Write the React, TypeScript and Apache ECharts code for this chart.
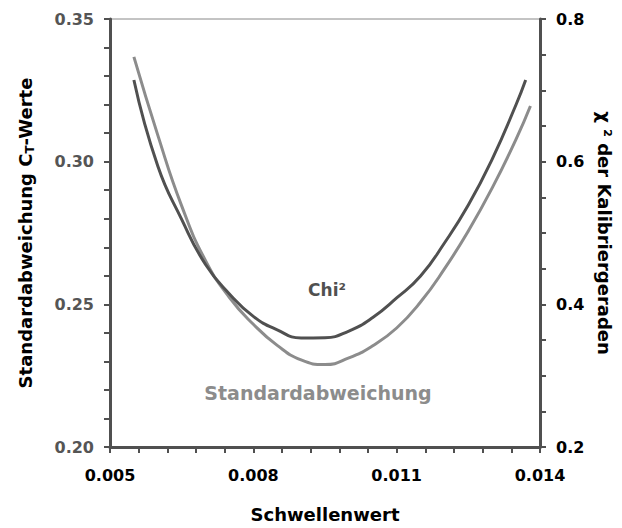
import React, { useEffect, useRef } from "react";
import * as echarts from "echarts";

// Schwellenwert (x) for each series
const stdX = [0.0055, 0.006, 0.0065, 0.007, 0.0075, 0.008, 0.0085, 0.009, 0.0095, 0.01, 0.0105, 0.011, 0.0115, 0.012, 0.0125, 0.013, 0.0135, 0.0138];
const stdValues = [0.3367, 0.3093, 0.2845, 0.2653, 0.2524, 0.243, 0.2356, 0.2305, 0.2289, 0.2312, 0.2355, 0.2417, 0.2508, 0.2624, 0.2757, 0.2908, 0.3079, 0.3195];

const chiX = [0.0055, 0.006, 0.0065, 0.007, 0.0075, 0.008, 0.0085, 0.009, 0.0095, 0.01, 0.0105, 0.011, 0.0115, 0.012, 0.0125, 0.013, 0.0135, 0.0137];
const chiValues = [0.7145, 0.5939, 0.5191, 0.4558, 0.4145, 0.3831, 0.3642, 0.3528, 0.3532, 0.3626, 0.3815, 0.4089, 0.4397, 0.486, 0.5392, 0.6037, 0.6801, 0.7145];

const xLabels = [0.005, 0.008, 0.011, 0.014];
const xTicks = [0.005, 0.0056, 0.0062, 0.0068, 0.0074, 0.008, 0.0086, 0.0092, 0.0098, 0.0104, 0.011, 0.0116, 0.0122, 0.0128, 0.0134, 0.014];
const leftLabels = [0.2, 0.25, 0.3, 0.35];
const leftTicks = [0.2, 0.21, 0.22, 0.23, 0.24, 0.25, 0.26, 0.27, 0.28, 0.29, 0.3, 0.31, 0.32, 0.33, 0.34, 0.35];
const rightLabels = [0.2, 0.4, 0.6, 0.8];
const rightTicks = [0.2, 0.25, 0.3, 0.35, 0.4, 0.45, 0.5, 0.55, 0.6, 0.65, 0.7, 0.75, 0.8];

const FONT = "DejaVu Sans";
const AXIS = "#505050";
const DARK = "#505050";
const LIGHT = "#8c8c8c";

export default function App() {
  const ref = useRef<HTMLDivElement>(null);
  useEffect(() => {
    if (!ref.current) return;
    const chart = echarts.init(ref.current, null, { renderer: "svg" });
    const axisCommon = {
      axisLine: { show: true, lineStyle: { color: AXIS, width: 3 } },
      axisTick: { show: true, inside: false, length: 6, lineStyle: { color: AXIS, width: 2 } },
      splitLine: { show: false },
    };
    chart.setOption({
      animation: false,
      backgroundColor: "#ffffff",
      grid: {
        left: 110, right: 82, top: 19, bottom: 81,
        show: true, borderColor: "#888", borderWidth: 1, backgroundColor: "transparent",
      },
      xAxis: {
        type: "value", min: 0.005, max: 0.014,
        ...axisCommon,
        axisTick: { ...axisCommon.axisTick, customValues: xTicks },
        axisLabel: {
          customValues: xLabels, margin: 20,
          formatter: (v: number) => v.toFixed(3),
          color: "#000", fontFamily: FONT, fontWeight: "bold", fontSize: 16,
        },
        name: "Schwellenwert", nameLocation: "middle", nameGap: 58,
        nameTextStyle: { color: "#000", fontFamily: FONT, fontWeight: "bold", fontSize: 18 },
      },
      yAxis: [
        {
          type: "value", min: 0.2, max: 0.35, position: "left",
          ...axisCommon,
          axisTick: { ...axisCommon.axisTick, customValues: leftTicks },
          axisLabel: {
            customValues: leftLabels, margin: 16,
            formatter: (v: number) => v.toFixed(2),
            color: "#555", fontFamily: FONT, fontWeight: "bold", fontSize: 16,
          },
          name: "Standardabweichung C{sub|T}-Werte", nameLocation: "middle", nameGap: 74, nameRotate: 90,
          nameTextStyle: {
            color: "#000", fontFamily: FONT, fontWeight: "bold", fontSize: 18,
            rich: { sub: { fontFamily: FONT, fontWeight: "bold", fontSize: 12, color: "#000", padding: [9, 0, 0, 0] } },
          },
        },
        {
          type: "value", min: 0.2, max: 0.8, position: "right",
          ...axisCommon,
          axisTick: { ...axisCommon.axisTick, customValues: rightTicks },
          axisLabel: {
            customValues: rightLabels, margin: 16,
            formatter: (v: number) => v.toFixed(1),
            color: "#000", fontFamily: FONT, fontWeight: "bold", fontSize: 16,
          },
          name: "χ ² der Kalibriergeraden", nameLocation: "middle", nameGap: 52, nameRotate: -90,
          nameTextStyle: { color: "#000", fontFamily: FONT, fontWeight: "bold", fontSize: 18 },
        },
      ],
      series: [
        {
          name: "Standardabweichung", type: "line", yAxisIndex: 0,
          data: stdX.map((x, i) => [x, stdValues[i]]),
          showSymbol: false, smooth: 0.5,
          lineStyle: { color: LIGHT, width: 3 },
        },
        {
          name: "Chi²", type: "line", yAxisIndex: 1,
          data: chiX.map((x, i) => [x, chiValues[i]]),
          showSymbol: false, smooth: 0.5,
          lineStyle: { color: DARK, width: 3 },
        },
      ],
      graphic: [
        {
          type: "text", x: 327, y: 290,
          style: { text: "Chi²", fill: DARK, font: `bold 17px "${FONT}"`, align: "center", verticalAlign: "middle" },
        },
        {
          type: "text", x: 318, y: 393,
          style: { text: "Standardabweichung", fill: LIGHT, font: `bold 19px "${FONT}"`, align: "center", verticalAlign: "middle" },
        },
      ],
    });
    return () => chart.dispose();
  }, []);
  return <div ref={ref} style={{ width: 622, height: 528, position: "absolute", left: 0, top: 0 }} />;
}
